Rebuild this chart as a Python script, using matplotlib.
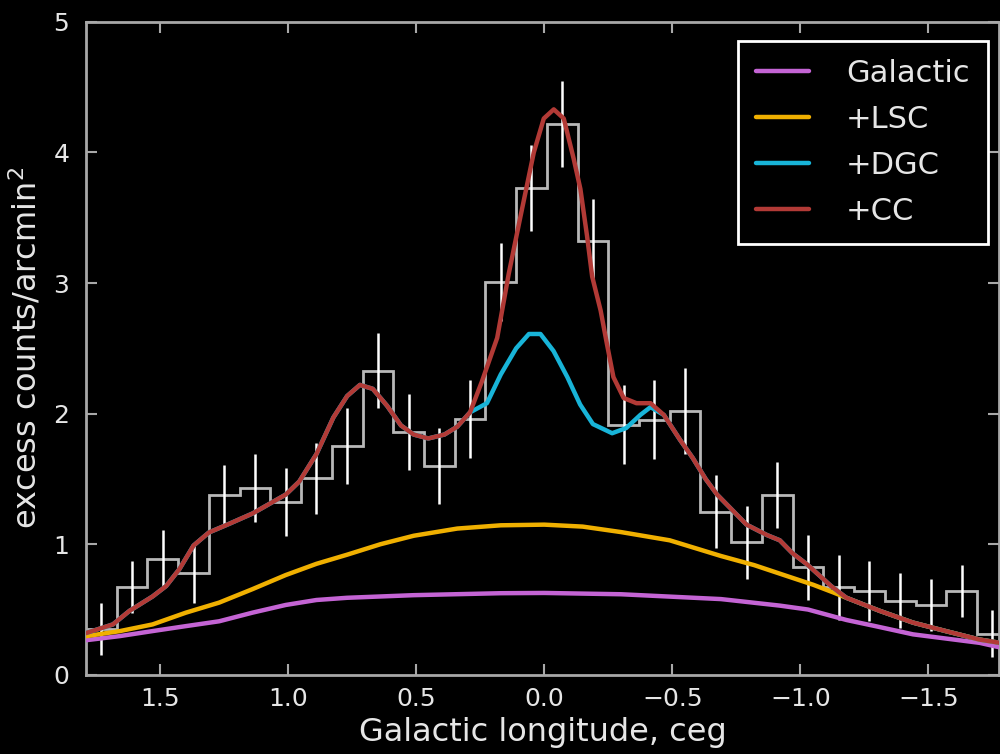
import matplotlib
matplotlib.use('Agg')
import matplotlib.pyplot as plt
import numpy as np

# histogram of excess counts (bin centres, values, errors)
bin_centers = [1.73, 1.61, 1.49, 1.37, 1.25, 1.13, 1.01, 0.89, 0.77, 0.65,
               0.53, 0.41, 0.29, 0.17, 0.05, -0.07, -0.19, -0.31, -0.43, -0.55,
               -0.67, -0.79, -0.91, -1.03, -1.15, -1.27, -1.39, -1.51, -1.63, -1.75]
counts = [0.35, 0.67, 0.887, 0.78, 1.376, 1.433, 1.325, 1.505, 1.754, 2.33,
          1.857, 1.60, 1.96, 3.01, 3.73, 4.22, 3.32, 1.916, 1.955, 2.02,
          1.25, 1.016, 1.376, 0.823, 0.669, 0.643, 0.566, 0.532, 0.643, 0.316]
errors = [0.20, 0.20, 0.22, 0.23, 0.23, 0.26, 0.26, 0.27, 0.29, 0.29,
          0.29, 0.29, 0.30, 0.30, 0.33, 0.33, 0.32, 0.30, 0.30, 0.33,
          0.28, 0.28, 0.25, 0.25, 0.25, 0.23, 0.21, 0.20, 0.20, 0.18]
bin_width = 0.12

# model curves
gal_x = [1.79, 1.66, 1.53, 1.40, 1.27, 1.14, 1.01, 0.89, 0.77, 0.51, 0.17, 0.0,
         -0.30, -0.69, -0.92, -1.03, -1.18, -1.30, -1.44, -1.60, -1.70, -1.78]
gal_y = [0.265, 0.296, 0.335, 0.373, 0.41, 0.476, 0.535, 0.573, 0.59, 0.61, 0.625, 0.627,
         0.617, 0.58, 0.53, 0.50, 0.42, 0.37, 0.31, 0.27, 0.245, 0.21]

lsc_x = [1.79, 1.66, 1.53, 1.40, 1.27, 1.14, 1.01, 0.89, 0.77, 0.64, 0.51, 0.34, 0.17,
         0.0, -0.15, -0.30, -0.49, -0.69, -0.82, -0.95, -1.05, -1.13, -1.18, -1.31,
         -1.44, -1.57, -1.70, -1.78]
lsc_y = [0.296, 0.334, 0.386, 0.476, 0.553, 0.656, 0.764, 0.85, 0.92, 1.0, 1.065, 1.12, 1.145,
         1.15, 1.135, 1.093, 1.03, 0.91, 0.84, 0.755, 0.69, 0.63, 0.59, 0.49,
         0.40, 0.334, 0.27, 0.245]

cc_x = [1.79, 1.685, 1.62, 1.53, 1.477, 1.425, 1.37, 1.31, 1.23, 1.14, 1.01, 0.957,
        0.89, 0.824, 0.77, 0.72, 0.67, 0.614, 0.56, 0.51, 0.453, 0.39, 0.34, 0.29,
        0.243, 0.184, 0.139, 0.093, 0.041, 0.002, -0.037, -0.076, -0.115, -0.141,
        -0.167, -0.187, -0.22, -0.245, -0.27, -0.31, -0.36, -0.415, -0.467, -0.53,
        -0.58, -0.63, -0.675, -0.74, -0.79, -0.87, -0.92, -0.97, -1.03, -1.12,
        -1.18, -1.31, -1.44, -1.57, -1.70, -1.78]
cc_y = [0.32, 0.386, 0.49, 0.60, 0.68, 0.81, 0.99, 1.09, 1.157, 1.235, 1.38, 1.48,
        1.69, 1.97, 2.135, 2.22, 2.19, 2.06, 1.91, 1.84, 1.81, 1.84, 1.90, 2.01,
        2.25, 2.58, 3.07, 3.51, 4.0, 4.26, 4.33, 4.26, 3.95, 3.72,
        3.36, 3.05, 2.79, 2.53, 2.28, 2.12, 2.08, 2.08, 1.99, 1.80,
        1.66, 1.50, 1.38, 1.25, 1.15, 1.07, 1.03, 0.93, 0.84, 0.68,
        0.59, 0.49, 0.40, 0.334, 0.27, 0.245]

# DGC differs from CC only around the centre
dgc_mid_x = [0.29, 0.224, 0.17, 0.11, 0.06, 0.015, -0.036, -0.09, -0.14, -0.19,
             -0.265, -0.32, -0.375, -0.415]
dgc_mid_y = [2.01, 2.08, 2.30, 2.50, 2.61, 2.61, 2.48, 2.28, 2.07, 1.92,
             1.85, 1.89, 1.99, 2.05]

labels = ['Galactic', '+LSC', '+DGC', '+CC']
colors = ['#c464d4', '#f0b000', '#18b4d8', '#b23a36']

cc_xa = np.array(cc_x)
cc_ya = np.array(cc_y)
left = cc_xa > max(dgc_mid_x)
right = cc_xa < min(dgc_mid_x)
dgc_x = np.concatenate([cc_xa[left], dgc_mid_x, cc_xa[right]])
dgc_y = np.concatenate([cc_ya[left], dgc_mid_y, cc_ya[right]])

fg = '#e6e6e6'
spine_c = '#a8a8a8'

fig = plt.figure(figsize=(10, 7.54), dpi=100, facecolor='black')
ax = fig.add_axes([0.086, 0.105, 0.913, 0.866])
ax.set_facecolor('black')

centers = np.array(bin_centers)
edges = np.append(centers + bin_width / 2, centers[-1] - bin_width / 2)
ax.stairs(counts, edges, baseline=None, color='#b8b8b8', lw=2, zorder=2)
ax.errorbar(centers, counts, yerr=errors, fmt='none', ecolor='white',
            elinewidth=1.8, zorder=3)

curves = [(gal_x, gal_y), (lsc_x, lsc_y), (dgc_x, dgc_y), (cc_x, cc_y)]
for i, (cx, cy) in enumerate(curves):
    ax.plot(cx, cy, color=colors[i], lw=3.2, label=labels[i], zorder=4 + i,
            solid_joinstyle='round', solid_capstyle='round')

ax.set_xlim(1.79, -1.776)
ax.set_ylim(0, 5)
ax.set_xticks([1.5, 1.0, 0.5, 0.0, -0.5, -1.0, -1.5])
ax.set_yticks([0, 1, 2, 3, 4, 5])

for s in ax.spines.values():
    s.set_color(spine_c)
    s.set_linewidth(2)
ax.tick_params(direction='in', length=8, width=1.5, color=spine_c,
               labelcolor=fg, labelsize=18, top=True, right=True)
ax.tick_params(axis='x', pad=9)
ax.tick_params(axis='y', pad=12)

ax.set_xlabel('Galactic longitude, ceg', color=fg, fontsize=23, labelpad=4)
ax.set_ylabel('excess counts/arcmin$^2$', color=fg, fontsize=23, labelpad=7)

leg = ax.legend(loc='upper right', bbox_to_anchor=(0.988, 0.971), borderaxespad=0,
                fontsize=22, frameon=True, fancybox=False, facecolor='black',
                edgecolor='white', framealpha=1, handlelength=1.75,
                handletextpad=1.2, labelspacing=0.55, borderpad=0.6)
leg.get_frame().set_linewidth(2)
for t in leg.get_texts():
    t.set_color(fg)

fig.savefig('out.png', dpi=100, facecolor='black')
